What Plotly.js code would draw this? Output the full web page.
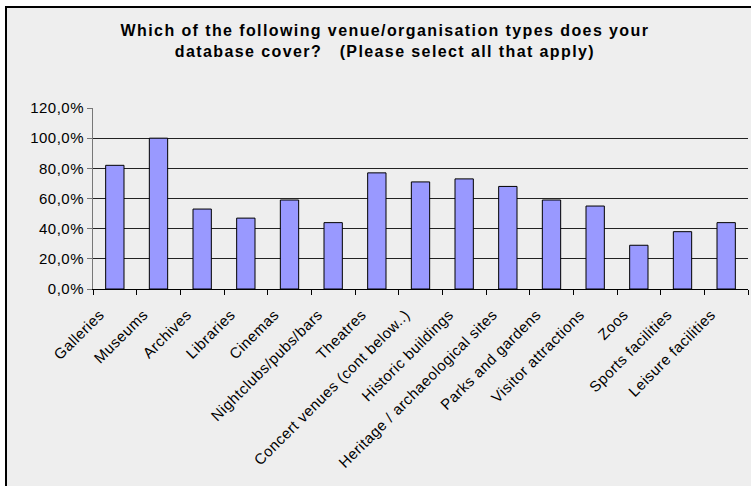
<!DOCTYPE html>
<html>
<head>
<meta charset="utf-8">
<script src="https://cdn.plot.ly/plotly-3.0.1.min.js"></script>
<style>
  html, body { margin: 0; padding: 0; background: #ffffff; width: 751px; height: 486px; overflow: hidden; }
  #chart { position: absolute; left: 5px; top: 6px; width: 746px; height: 480px;
           border-left: 2px solid #000; border-top: 2px solid #000; box-sizing: border-box; }
  text { letter-spacing: 0.5px; }
  .gtitle { letter-spacing: 1.4px; }
</style>
</head>
<body>
<div id="chart"></div>
<script>
const categories = ["Galleries", "Museums", "Archives", "Libraries", "Cinemas",
  "Nightclubs/pubs/bars", "Theatres", "Concert venues (cont below..)", "Historic buildings",
  "Heritage / archaeological sites", "Parks and gardens", "Visitor attractions", "Zoos",
  "Sports facilities", "Leisure facilities"];
const values = [0.82, 1.00, 0.53, 0.47, 0.59, 0.44, 0.77, 0.71, 0.73, 0.68, 0.59, 0.55, 0.29, 0.38, 0.44];
const yTicks = [0, 0.2, 0.4, 0.6, 0.8, 1.0, 1.2];
const titleText = "Which of the following venue/organisation types does your<br>database cover?   (Please select all that apply)";

const font = "Arial, 'Liberation Sans', sans-serif";
Plotly.newPlot("chart", [{
  type: "bar",
  x: categories,
  y: values,
  marker: { color: "#9999FF", line: { color: "#000000", width: 1 } },
  hoverinfo: "x+y"
}], {
  width: 744, height: 478,
  margin: { l: 86, r: 3, t: 100, b: 197 },
  paper_bgcolor: "#EEEEEE",
  plot_bgcolor: "#EEEEEE",
  separators: ", ",
  bargap: 0.58,
  showlegend: false,
  font: { family: font, size: 15, color: "#000" },
  title: {
    text: titleText,
    font: { family: font, size: 16, color: "#000", weight: "bold" },
    xref: "container", x: 0.508, xanchor: "center",
    yref: "container", y: 0.942, yanchor: "top"
  },
  xaxis: {
    type: "category",
    tickangle: -45,
    tickson: "boundaries",
    ticks: "outside", ticklen: 5, tickcolor: "#000", tickwidth: 1,
    showline: true, linecolor: "#000", linewidth: 1,
    showgrid: false,
    ticklabelstandoff: 10,
    ticklabelshift: -15,
    tickfont: { family: font, size: 15, color: "#000" }
  },
  yaxis: {
    range: [0, 1.2],
    tickvals: yTicks,
    tickformat: ".1%",
    ticks: "outside", ticklen: 5, tickcolor: "#777", tickwidth: 1,
    showline: true, linecolor: "#777", linewidth: 1,
    showgrid: true, gridcolor: "#222", gridwidth: 1,
    zeroline: false,
    tickfont: { family: font, size: 15, color: "#000" }
  }
}, { displayModeBar: false, staticPlot: true });
</script>
</body>
</html>
